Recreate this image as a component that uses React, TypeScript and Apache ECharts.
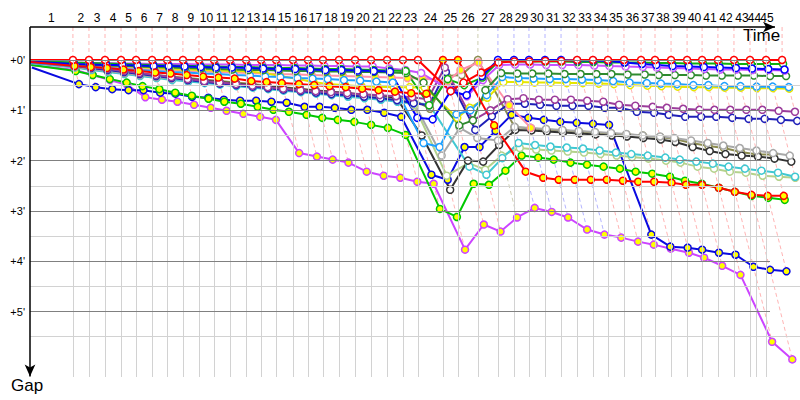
import React, { useEffect, useRef } from "react";
import * as echarts from "echarts";

// Leader's lap completion times (seconds), index 0 = start
const lapTimes = [0, 206, 283, 360, 437, 509, 586, 658, 734, 811, 883, 960, 1037, 1109, 1181, 1262, 1334, 1406, 1483, 1560, 1637, 1714, 1790, 1862, 1982, 2054, 2150, 2246, 2323, 2395, 2472, 2549, 2626, 2702, 2774, 2851, 2933, 3000, 3077, 3154, 3226, 3302, 3379, 3456, 3533, 3610];
// Vertical lap grid marks (seconds)
const gridTimes = [206, 283, 360, 437, 509, 586, 658, 734, 811, 883, 960, 1037, 1109, 1181, 1262, 1334, 1406, 1483, 1560, 1637, 1714, 1790, 1862, 1982, 2054, 2150, 2246, 2323, 2395, 2472, 2549, 2626, 2702, 2774, 2851, 2933, 3000, 3077, 3154, 3226, 3302, 3379, 3456, 3485, 3533];
const lapLabels = ["1","2","3","4","5","6","7","8","9","10","11","12","13","14","15","16","17","18","19","20","21","22","23","24","25","26","27","28","29","30","31","32","33","34","35","36","37","38","39","40","41","42","43","44","45"];
const gapTicks = [0, 1, 2, 3, 4, 5];
const gapMinor = [0.5, 1.5, 2.5, 3.5, 4.5, 5.5];

// Gaps to leader in minutes, per lap (index 0 = start)
const gapRedWhite = [0, 0,0,0,0,0,0,0,0,0,0, 0,0,0,0,0,0,0,0,0,0, 0,0,0, 0.62, 0.45, 0.25, 0.05, 0.03, 0.03, 0.02, 0.02, 0,0,0,0,0,0,0,0,0,0,0,0,0,0];
const gapRedYellow = [0.04, 0.12, 0.14, 0.16, 0.19, 0.22, 0.25, 0.27, 0.3, 0.33, 0.35, 0.37, 0.42, 0.44, 0.46, 0.48, 0.5, 0.52, 0.54, 0.57, 0.6, 0.63, 0.66, 0.67, 0, 0, 1.3, 2.22, 2.34, 2.38, 2.38, 2.38, 2.38, 2.4, 2.42, 2.42, 2.44, 2.48, 2.48, 2.54, 2.62, 2.68, 2.7, 2.7];
const gapGreenWhite = [0.02, 0.05, 0.06, 0.07, 0.08, 0.09, 0.1, 0.11, 0.12, 0.12, 0.13, 0.14, 0.14, 0.15, 0.16, 0.16, 0.17, 0.18, 0.18, 0.19, 0.2, 0.21, 0.22, 0.9, 0.38, 0.5, 0.35, 0.03, 0.03, 0.03, 0.03, 0.03, 0.04, 0.04, 0.05, 0.05, 0.05, 0.06, 0.06, 0.07, 0.07, 0.07, 0.08, 0.08, 0.08, 0.08];
const gapBlueWhite = [0.03, 0.08, 0.09, 0.1, 0.1, 0.11, 0.12, 0.12, 0.13, 0.14, 0.15, 0.15, 0.16, 0.17, 0.18, 0.18, 0.19, 0.2, 0.2, 0.21, 0.22, 0.23, 1.15, 1.18, 0.62, 0.7, 0.32, 0, 0, 0, 0, 0, 0.01, 0.01, 0.02, 0.05, 0.08, 0.1, 0.12, 0.13, 0.14, 0.15, 0.16, 0.17, 0.18, 0.19];
const gapVioletWhite = [0.02, 0.05, 0.06, 0.06, 0.07, 0.07, 0.08, 0.08, 0.08, 0.09, 0.09, 0.09, 0.1, 0.1, 0.1, 0.11, 0.11, 0.12, 0.12, 0.13, 0.13, 0.17, 0.2, 0.26, 0.6, 0.72, 0.4, 0.1, 0.09, 0.09, 0.1, 0.1, 0.1, 0.11, 0.12, 0.13, 0.14, 0.15, 0.16, 0.17, 0.18, 0.19, 0.19, 0.2, 0.2, 0.21];
const gapDarkGreenWhite = [0.04, 0.08, 0.1, 0.11, 0.12, 0.13, 0.14, 0.15, 0.16, 0.17, 0.18, 0.19, 0.2, 0.2, 0.21, 0.22, 0.22, 0.23, 0.23, 0.24, 0.24, 0.25, 0.26, 0.45, 1.3, 1.2, 0.6, 0.26, 0.27, 0.27, 0.27, 0.28, 0.28, 0.28, 0.28, 0.29, 0.29, 0.3, 0.3, 0.3, 0.31, 0.31, 0.31, 0.31, 0.32, 0.32];
const gapSkyWhite = [0.06, 0.12, 0.14, 0.16, 0.18, 0.2, 0.22, 0.24, 0.25, 0.27, 0.28, 0.3, 0.31, 0.33, 0.34, 0.36, 0.37, 0.38, 0.4, 0.41, 0.43, 0.45, 1.65, 1.73, 1.08, 1.0, 0.7, 0.34, 0.36, 0.37, 0.38, 0.38, 0.39, 0.4, 0.42, 0.45, 0.46, 0.47, 0.48, 0.5, 0.5, 0.52, 0.52, 0.53, 0.53, 0.54];
const gapYellowWhite = [0.03, 0.06, 0.08, 0.1, 0.12, 0.14, 0.16, 0.18, 0.19, 0.2, 0.21, 0.22, 0.23, 0.26, 0.32, 0.38, 0.44, 0.48, 0.5, 0.52, 0.53, 0.54, 0.54, 0.55, 1.15, 0.95, 0.75, 0.44, 0.44, 0.45, 0.45, 0.46, 0.46, 0.47, 0.48, 0.5, 0.51, 0.52, 0.53, 0.54, 0.54, 0.55, 0.55, 0.56, 0.56, 0.57];
const gapPinkYellow = [0.05, 0.1, 0.12, 0.14, 0.16, 0.18, 0.19, 0.2, 0.22, 0.23, 0.24, 0.25, 0.26, 0.27, 0.28, 0.29, 0.3, 0.31, 0.32, 0.33, 0.34, 0.35, 0.36, 0.37, 0.42, 0.2, 0.05, 0.9, 1.35];
const gapPurpleWhite = [0.03, 0.1, 0.14, 0.18, 0.22, 0.26, 0.3, 0.34, 0.38, 0.42, 0.45, 0.48, 0.51, 0.54, 0.57, 0.6, 0.62, 0.64, 0.66, 0.68, 0.7, 0.72, 0.74, 0.78, 0.15, 1.2, 1.0, 0.78, 0.76, 0.79, 0.79, 0.79, 0.81, 0.83, 0.89, 0.91, 0.93, 0.95, 0.97, 0.99, 0.99, 0.99, 0.99, 0.99, 1.01, 1.03];
const gapNavyWhite = [0.05, 0.12, 0.16, 0.2, 0.24, 0.28, 0.32, 0.36, 0.4, 0.44, 0.47, 0.5, 0.53, 0.56, 0.59, 0.62, 0.65, 0.68, 0.7, 0.73, 0.76, 0.8, 0.86, 0.9, 0.24, 1.39, 1.12, 0.87, 0.87, 0.89, 0.91, 0.91, 0.91, 0.95, 0.95, 1.03, 1.05, 1.09, 1.13, 1.13, 1.13, 1.15, 1.17, 1.17, 1.19, 1.21];
const gapGrayWhite = [0.06, 0.14, 0.18, 0.22, 0.26, 0.3, 0.34, 0.37, 0.4, 0.43, 0.46, 0.49, 0.52, 0.55, 0.58, 0.6, 0.63, 0.66, 0.68, 0.71, 0.74, 0.8, 0.82, 1.9, 1.35, 1.55, 1.6, 1.33, 1.35, 1.37, 1.39, 1.41, 1.43, 1.45, 1.47, 1.5, 1.52, 1.55, 1.6, 1.65, 1.7, 1.75, 1.8, 1.85, 1.9];
const gapBlackWhite = [0.05, 0.13, 0.17, 0.21, 0.25, 0.29, 0.32, 0.35, 0.38, 0.41, 0.44, 0.47, 0.5, 0.53, 0.55, 0.58, 0.61, 0.63, 0.66, 0.69, 0.72, 0.76, 1.5, 2.58, 2.0, 2.02, 1.69, 1.39, 1.4, 1.42, 1.44, 1.46, 1.48, 1.5, 1.52, 1.55, 1.58, 1.63, 1.73, 1.81, 1.87, 1.9, 1.92, 1.96, 2.02];
const gapOliveWhite = [0.04, 0.12, 0.16, 0.2, 0.24, 0.27, 0.3, 0.33, 0.36, 0.39, 0.42, 0.45, 0.48, 0.51, 0.54, 0.57, 0.6, 0.63, 0.66, 0.69, 0.72, 0.75, 0.78, 0.97, 0.32, 0.3, 0, 1.33, 1.36, 1.38, 1.4, 1.42, 1.44, 1.46, 1.48, 1.5, 1.53, 1.57, 1.65, 1.71, 1.75, 1.83, 1.88, 1.88];
const gapCyanWhite = [0.06, 0.15, 0.2, 0.24, 0.28, 0.32, 0.36, 0.4, 0.43, 0.46, 0.49, 0.52, 0.55, 0.58, 0.61, 0.64, 0.67, 0.7, 0.73, 0.76, 0.79, 0.83, 0.86, 0.88, 2.12, 2.28, 1.95, 1.65, 1.69, 1.72, 1.74, 1.76, 1.8, 1.84, 1.87, 1.9, 1.94, 1.98, 2.02, 2.06, 2.12, 2.16, 2.2, 2.24, 2.32];
const gapLimeWhite = [0.05, 0.14, 0.19, 0.23, 0.27, 0.31, 0.35, 0.38, 0.41, 0.44, 0.47, 0.5, 0.53, 0.56, 0.59, 0.62, 0.65, 0.68, 0.71, 0.74, 0.77, 0.8, 0.9, 2.3, 2.05, 2.18, 1.9, 1.75, 1.78, 1.8, 1.82, 1.84, 1.87, 1.9, 1.93, 1.96, 2.0, 2.04, 2.12, 2.16, 2.22, 2.24, 2.3, 2.32, 2.34];
const gapGreenYellow = [0.1, 0.22, 0.3, 0.38, 0.45, 0.52, 0.58, 0.65, 0.71, 0.77, 0.83, 0.87, 0.93, 0.99, 1.03, 1.09, 1.15, 1.19, 1.23, 1.29, 1.35, 1.49, 2.96, 3.12, 2.46, 2.48, 2.2, 1.9, 1.94, 1.98, 2.04, 2.08, 2.12, 2.16, 2.22, 2.26, 2.32, 2.4, 2.46, 2.54, 2.62, 2.7, 2.74, 2.78];
const gapBlueYellow = [0.15, 0.48, 0.54, 0.58, 0.6, 0.6, 0.65, 0.67, 0.73, 0.75, 0.79, 0.81, 0.81, 0.83, 0.85, 0.93, 0.93, 0.95, 0.99, 0.99, 1.05, 1.13, 2.28, 2.38, 1.73, 1.73, 1.41, 1.09, 1.15, 1.19, 1.23, 1.25, 1.27, 1.29, 3.47, 3.71, 3.73, 3.77, 3.83, 3.87, 4.11, 4.17, 4.2];
const gapVioletYellow = [0.1, 0.2, 0.3, 0.4, 0.5, 0.74, 0.79, 0.83, 0.89, 0.95, 1.01, 1.07, 1.13, 1.19, 1.85, 1.92, 1.98, 2.04, 2.22, 2.3, 2.34, 2.42, 2.46, 3.77, 3.27, 3.41, 3.13, 2.94, 3.02, 3.13, 3.37, 3.47, 3.53, 3.61, 3.67, 3.75, 3.83, 3.93, 4.09, 4.27, 5.6, 5.95];

const drivers = [
  { name: "VY", line: "#cc44ff", fill: "#ffff00", dash: "#ffb4b4", gaps: gapVioletYellow },
  { name: "BY", line: "#0a0ae0", fill: "#ffff00", dash: "#b4b4ff", gaps: gapBlueYellow },
  { name: "GY", line: "#00c800", fill: "#ffff00", dash: "#ffb4b4", gaps: gapGreenYellow },
  { name: "LW", line: "#b4d28c", fill: "#ffffff", dash: "#ffb4b4", gaps: gapLimeWhite },
  { name: "CW", line: "#40c8d2", fill: "#ffffff", dash: "#ffb4b4", gaps: gapCyanWhite },
  { name: "OW", line: "#8c8c50", fill: "#ffffff", dash: "#cdcdb0", gaps: gapOliveWhite },
  { name: "KW", line: "#333333", fill: "#ffffff", dash: "#ffb4b4", gaps: gapBlackWhite },
  { name: "GrW", line: "#a8a8a8", fill: "#ffffff", dash: "#ffb4b4", gaps: gapGrayWhite },
  { name: "NW", line: "#2020b8", fill: "#ffffff", dash: "#b4b4ff", gaps: gapNavyWhite },
  { name: "PW", line: "#9b3c9b", fill: "#ffffff", dash: "#ffb4b4", gaps: gapPurpleWhite },
  { name: "PkY", line: "#ff90a8", fill: "#ffff00", dash: "#ffb4b4", gaps: gapPinkYellow },
  { name: "YW", line: "#e6e600", fill: "#ffffff", dash: "#ffb4b4", gaps: gapYellowWhite },
  { name: "SW", line: "#1ea0ff", fill: "#ffffff", dash: "#b4b4ff", gaps: gapSkyWhite },
  { name: "DGW", line: "#2e8b2e", fill: "#ffffff", dash: "#ffb4b4", gaps: gapDarkGreenWhite },
  { name: "VW", line: "#c850ff", fill: "#ffffff", dash: "#ffb4b4", gaps: gapVioletWhite },
  { name: "GW", line: "#10b010", fill: "#ffffff", dash: "#ffb4b4", gaps: gapGreenWhite },
  { name: "BW", line: "#0000ff", fill: "#ffffff", dash: "#b4b4ff", gaps: gapBlueWhite },
  { name: "RY", line: "#ff0000", fill: "#ffff00", dash: "#ffb4b4", gaps: gapRedYellow },
  { name: "RW", line: "#ff0000", fill: "#ffffff", dash: "#ffb4b4", gaps: gapRedWhite },
];

const Y_MIN = -0.655;
const Y_MAX = 6.3;
const X_MAX = 3696;
const MAJOR_END = 3552;
const AXIS_END = 3576;
const SEC_PER_PX = 4.8;
const FONT = "Liberation Sans";

function buildOption() {
  const bounds = [0, ...gridTimes];
  const mids = lapLabels.map((_, i) => (bounds[i] + bounds[i + 1]) / 2);
  // small nudges so the two last, very close labels stay legible
  mids[mids.length - 2] += 1.5 * SEC_PER_PX;
  mids[mids.length - 1] += 6 * SEC_PER_PX;
  const labelFor = (v: number) => {
    let best = 0;
    for (let i = 1; i < mids.length; i++) if (Math.abs(mids[i] - v) < Math.abs(mids[best] - v)) best = i;
    return lapLabels[best];
  };
  const oddMids = mids.filter((_, i) => i % 2 === 0);
  const evenMids = mids.filter((_, i) => i % 2 === 1);

  const gridMark: any[] = [];
  gapMinor.forEach((v) => gridMark.push([{ coord: [0, v], lineStyle: { color: "#d2d2d2", width: 1, type: "solid" } }, { coord: [X_MAX, v] }]));
  gridTimes.forEach((t) => gridMark.push([{ coord: [t, 0], lineStyle: { color: "#d2d2d2", width: 1, type: "solid" } }, { coord: [t, Y_MAX] }]));
  gapTicks.forEach((v) => gridMark.push([{ coord: [0, v], lineStyle: { color: "#808080", width: 1, type: "solid" } }, { coord: [MAJOR_END, v] }]));

  const axisMark: any[] = [
    [{ coord: [0, Y_MIN], symbol: "none", lineStyle: { color: "#000", width: 1.5, type: "solid" } }, { coord: [AXIS_END, Y_MIN], symbol: "arrow", symbolSize: [8, 12] }],
    [{ coord: [0, Y_MIN], symbol: "none", lineStyle: { color: "#000", width: 1.5, type: "solid" } }, { coord: [0, Y_MAX - 0.01], symbol: "arrow", symbolSize: [8, 12] }],
  ];

  const series: any[] = [
    {
      type: "line", data: [], silent: true, z: 1,
      markLine: { silent: true, symbol: ["none", "none"], label: { show: false }, data: gridMark, animation: false },
    },
  ];

  // dashed lap connectors
  for (let k = 1; k < lapTimes.length; k++) {
    const pts = drivers.filter((d) => d.gaps.length > k).map((d, i) => ({ g: d.gaps[k], dash: d.dash, order: i }));
    if (!pts.length) continue;
    pts.sort((a, b) => a.g - b.g || b.order - a.order);
    const data = [[lapTimes[k], Y_MIN], ...pts.map((p) => [lapTimes[k] + p.g * 60, p.g])];
    series.push({
      type: "line", data, symbol: "none", silent: true, z: 2,
      lineStyle: { type: [4, 3], width: 1, color: pts[0].dash },
    });
  }

  drivers.forEach((d) => {
    series.push({
      name: d.name,
      type: "line",
      z: 3,
      symbol: "circle",
      symbolSize: 7,
      silent: true,
      data: d.gaps.map((g, k) =>
        k === 0 ? { value: [lapTimes[k] + g * 60, g], symbol: "none" } : [lapTimes[k] + g * 60, g]
      ),
      lineStyle: { color: d.line, width: 2 },
      itemStyle: { color: d.fill, borderColor: d.line, borderWidth: 1.5 },
    });
  });

  series.push({
    type: "line", data: [], silent: true, z: 10,
    markLine: { silent: true, symbol: ["none", "none"], label: { show: false }, data: axisMark, animation: false },
  });

  const lapAxis = (vals: number[]) => ({
    type: "value", position: "top", min: 0, max: X_MAX,
    axisLine: { show: false }, axisTick: { show: false }, splitLine: { show: false },
    axisLabel: {
      customValues: vals, formatter: (v: number) => labelFor(v), hideOverlap: false,
      color: "#000", fontSize: 12, fontFamily: FONT, margin: 3,
    },
  });

  return {
    animation: false,
    textStyle: { fontFamily: FONT },
    grid: { left: 30, right: 0, top: 27, bottom: 23, containLabel: false },
    xAxis: [lapAxis(oddMids), lapAxis(evenMids)],
    yAxis: {
      type: "value", inverse: true, min: Y_MIN, max: Y_MAX,
      axisLine: { show: false }, axisTick: { show: false }, splitLine: { show: false },
      axisLabel: {
        customValues: gapTicks, formatter: (v: number) => `+${v}'`,
        color: "#000", fontSize: 11, fontFamily: FONT, margin: 5,
      },
    },
    graphic: [
      { type: "text", left: 743, top: 27, style: { text: "Time", fill: "#000", font: `17px "${FONT}"` } },
      { type: "text", left: 11, top: 377, style: { text: "Gap", fill: "#000", font: `17px "${FONT}"` } },
    ],
    series,
  };
}

export default function App() {
  const ref = useRef<HTMLDivElement>(null);
  useEffect(() => {
    if (!ref.current) return;
    const chart = echarts.init(ref.current, null, { renderer: "svg" });
    chart.setOption(buildOption() as any);
    return () => chart.dispose();
  }, []);
  return (
    <div
      ref={ref}
      style={{ position: "fixed", left: 0, top: 0, width: 800, height: 400, background: "#fff" }}
    />
  );
}
